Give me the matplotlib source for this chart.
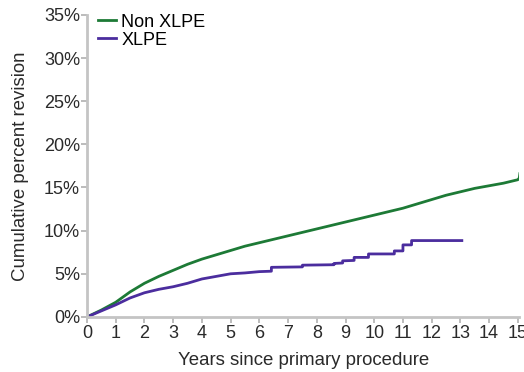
import matplotlib
matplotlib.use("Agg")
import matplotlib.pyplot as plt
import matplotlib.ticker as ticker

# Cumulative percent revision by years since primary procedure
years_non = [0, 0.5, 1, 1.5, 2, 2.5, 3, 3.5, 4, 4.5, 5, 5.5, 6, 6.5, 7, 7.5,
             8, 8.5, 9, 9.5, 10, 10.5, 11, 11.5, 12, 12.5, 13, 13.5, 14, 14.5,
             15, 15.05, 15.07]
rev_non = [0.0, 0.8, 1.7, 2.9, 3.9, 4.7, 5.4, 6.1, 6.7, 7.2, 7.7, 8.2, 8.6, 9.0,
           9.4, 9.8, 10.2, 10.6, 11.0, 11.4, 11.8, 12.2, 12.6, 13.1, 13.6, 14.1,
           14.5, 14.9, 15.2, 15.5, 15.9, 16.1, 16.6]

years_xlpe = [0, 0.5, 1, 1.5, 2, 2.5, 3, 3.5, 4, 4.5, 5, 5.5, 6, 6.42, 6.42,
              7.5, 7.5, 8.6, 8.6, 8.9, 8.9, 9.3, 9.3, 9.8, 9.8, 10.7, 10.7,
              11.0, 11.0, 11.3, 11.3, 13.05]
rev_xlpe = [0.0, 0.7, 1.4, 2.2, 2.8, 3.2, 3.5, 3.9, 4.4, 4.7, 5.0, 5.1, 5.25,
            5.3, 5.75, 5.8, 6.0, 6.05, 6.2, 6.25, 6.5, 6.55, 6.9, 6.9, 7.3,
            7.3, 7.65, 7.65, 8.35, 8.35, 8.85, 8.85]

plt.rcParams["font.family"] = ["Liberation Sans", "DejaVu Sans"]

fig = plt.figure(figsize=(5.24, 3.72), dpi=100)
ax = fig.add_axes([0.166, 0.148, 0.825, 0.812])

ax.plot(years_non, rev_non, color="#1d7a36", lw=2.0, label="Non XLPE")
ax.plot(years_xlpe, rev_xlpe, color="#4b2d9e", lw=2.0, label="XLPE")

ax.set_xlim(0, 15.05)
ax.set_ylim(0, 35)
ax.set_xticks(range(0, 16))
ax.set_yticks(range(0, 36, 5))
ax.yaxis.set_major_formatter(ticker.FuncFormatter(lambda v, _: f"{int(v)}%"))

for side in ("top", "right"):
    ax.spines[side].set_visible(False)
for side in ("left", "bottom"):
    ax.spines[side].set_color("#c4c4c4")
    ax.spines[side].set_linewidth(2.0)
ax.tick_params(colors="#b0b0b0", labelcolor="#2a2a2a", labelsize=13,
               length=4, width=1.2, pad=1)
ax.tick_params(axis="x", pad=2)

ax.set_xlabel("Years since primary procedure", fontsize=13.4, color="#2a2a2a",
              labelpad=7)
ax.set_ylabel("Cumulative percent revision", fontsize=13.4, color="#2a2a2a",
              labelpad=11)

ax.legend(loc="upper left", bbox_to_anchor=(0.0, 1.04), frameon=False,
          fontsize=13, handlelength=1.0, handletextpad=0.3,
          borderaxespad=0.2, labelspacing=0.05)

fig.savefig("out.png", dpi=100)
